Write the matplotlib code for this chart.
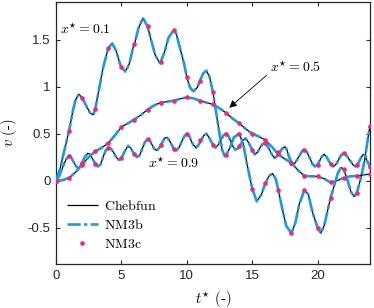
import matplotlib
matplotlib.use("Agg")
import matplotlib.pyplot as plt
import numpy as np

plt.rcParams['mathtext.fontset'] = 'cm'
plt.rcParams['axes.unicode_minus'] = False

# ---- data ----
# x* = 0.1 curve
tA = [0, 0.3, 0.6, 1.0, 1.3, 1.5, 1.75, 2.0, 2.3, 2.6, 2.85, 3.0, 3.3, 3.6, 3.9, 4.0,
      4.3, 4.6, 4.9, 5.0, 5.3, 5.6, 5.9, 6.0, 6.3, 6.65, 7.0, 7.3, 7.6, 7.95, 8.0, 8.3,
      8.6, 9.0, 9.2, 9.5, 9.8, 10.0, 10.25, 10.5, 10.8, 11.0, 11.25, 11.5, 11.75, 12.0,
      12.25, 12.5, 12.7, 12.9, 13.0, 13.3, 13.6, 14.0, 14.3, 14.6, 15.0, 15.35, 15.7,
      16.0, 16.3, 16.55, 16.8, 17.0, 17.3, 17.6, 18.0, 18.3, 18.6, 19.0, 19.3, 19.6,
      20.0, 20.25, 20.5, 20.75, 21.0, 21.3, 21.55, 21.8, 22.0, 22.3, 22.55, 22.8, 23.0,
      23.3, 23.6, 23.85, 24.0]
vA = [0, 0.12, 0.30, 0.53, 0.75, 0.86, 0.92, 0.88, 0.80, 0.72, 0.70, 0.76, 0.98, 1.20,
      1.36, 1.41, 1.46, 1.38, 1.24, 1.21, 1.16, 1.24, 1.42, 1.45, 1.62, 1.73, 1.64, 1.48,
      1.33, 1.25, 1.26, 1.37, 1.52, 1.60, 1.56, 1.40, 1.24, 1.10, 0.99, 0.95, 0.99, 1.06,
      1.14, 1.17, 1.10, 0.94, 0.72, 0.50, 0.33, 0.26, 0.27, 0.35, 0.46, 0.50, 0.40, 0.18,
      -0.085, -0.22, -0.15, -0.03, 0.05, 0.075, 0.02, -0.10, -0.30, -0.48, -0.56, -0.45,
      -0.25, -0.10, -0.15, -0.33, -0.50, -0.56, -0.48, -0.33, -0.18, -0.04, 0.08, 0.14,
      0.12, 0.00, -0.12, -0.17, -0.13, 0.02, 0.22, 0.45, 0.58]

# x* = 0.5 curve
tB = [0, 0.5, 1.0, 1.5, 2.0, 2.5, 3.0, 3.5, 4.0, 4.5, 5.0, 5.5, 6.0, 6.5, 7.0, 7.5, 8.0,
      8.5, 9.0, 9.5, 10.0, 10.5, 11.0, 11.5, 12.0, 12.5, 13.0, 13.5, 14.0, 14.5, 15.0,
      15.5, 16.0, 16.5, 17.0, 17.5, 18.0, 18.5, 19.0, 19.5, 20.0, 20.5, 21.0, 21.5, 22.0,
      22.5, 23.0, 23.5, 24.0]
vB = [0, 0.005, 0.03, 0.09, 0.17, 0.25, 0.31, 0.35, 0.40, 0.48, 0.57, 0.61, 0.65, 0.70,
      0.755, 0.80, 0.83, 0.84, 0.85, 0.87, 0.885, 0.875, 0.85, 0.83, 0.81, 0.77, 0.72,
      0.66, 0.61, 0.55, 0.50, 0.47, 0.43, 0.36, 0.28, 0.23, 0.19, 0.11, 0.05, 0.045, 0.045,
      0.02, -0.02, 0.00, 0.03, 0.045, 0.05, 0.06, 0.07]

# x* = 0.9 curve
tC = [0, 0.25, 0.5, 0.75, 0.97, 1.15, 1.3, 1.5, 1.66, 1.85, 2.0, 2.2, 2.42, 2.6, 2.8, 3.0,
      3.2, 3.4, 3.6, 3.8, 4.0, 4.2, 4.4, 4.6, 4.8, 5.0, 5.25, 5.5, 5.7, 5.9, 6.2, 6.4, 6.6,
      6.8, 7.0, 7.2, 7.35, 7.5, 7.7, 7.9, 8.1, 8.3, 8.5, 8.7, 8.85, 9.0, 9.2, 9.4, 9.6, 9.8,
      10.0, 10.2, 10.35, 10.5, 10.7, 10.9, 11.1, 11.3, 11.5, 11.7, 11.85, 12.0, 12.2, 12.4,
      12.6, 12.8, 13.0, 13.2, 13.35, 13.5, 13.7, 13.9, 14.1, 14.3, 14.5, 14.7, 14.85, 15.0,
      15.2, 15.4, 15.6, 15.8, 16.0, 16.2, 16.35, 16.5, 16.7, 16.9, 17.1, 17.3, 17.5, 17.65,
      17.8, 17.95, 18.1, 18.3, 18.55, 18.8, 19.0, 19.2, 19.4, 19.6, 19.8, 20.0, 20.15,
      20.3, 20.5, 20.7, 20.85, 21.0, 21.2, 21.4, 21.6, 21.8, 22.0, 22.2, 22.45, 22.7, 22.9,
      23.05, 23.2, 23.35, 23.5, 23.65, 23.75, 23.9, 24.0]
vC = [0, 0.05, 0.14, 0.22, 0.26, 0.25, 0.21, 0.16, 0.135, 0.15, 0.19, 0.25, 0.29, 0.28,
      0.23, 0.18, 0.15, 0.17, 0.25, 0.32, 0.35, 0.34, 0.30, 0.25, 0.22, 0.24, 0.31, 0.37,
      0.35, 0.30, 0.25, 0.27, 0.34, 0.41, 0.44, 0.42, 0.38, 0.34, 0.32, 0.35, 0.40, 0.45,
      0.46, 0.42, 0.38, 0.34, 0.32, 0.35, 0.41, 0.47, 0.50, 0.47, 0.42, 0.38, 0.35, 0.38,
      0.43, 0.48, 0.50, 0.46, 0.42, 0.38, 0.35, 0.38, 0.43, 0.48, 0.50, 0.47, 0.42, 0.37,
      0.33, 0.34, 0.38, 0.43, 0.45, 0.41, 0.37, 0.33, 0.28, 0.30, 0.35, 0.39, 0.40, 0.36,
      0.32, 0.28, 0.24, 0.26, 0.30, 0.34, 0.36, 0.33, 0.26, 0.21, 0.17, 0.19, 0.25, 0.31,
      0.33, 0.30, 0.24, 0.18, 0.15, 0.17, 0.21, 0.25, 0.28, 0.25, 0.21, 0.18, 0.15, 0.17,
      0.22, 0.27, 0.29, 0.27, 0.22, 0.17, 0.15, 0.17, 0.21, 0.25, 0.28, 0.26, 0.22, 0.18,
      0.15]

# NM3c samples (at integer t*)
t_pts = list(range(0, 25))
pA = [0, 0.53, 0.88, 0.76, 1.41, 1.21, 1.45, 1.64, 1.26, 1.60, 1.10, 1.06, 0.94, 0.27,
      0.50, -0.085, -0.03, -0.10, -0.56, -0.10, -0.50, -0.18, 0.12, -0.13, 0.58]
pB = [0, 0.03, 0.17, 0.31, 0.40, 0.57, 0.65, 0.755, 0.83, 0.85, 0.885, 0.85, 0.81, 0.72,
      0.61, 0.50, 0.43, 0.28, 0.19, 0.05, 0.045, -0.02, 0.03, 0.05, 0.07]
pC = [0, 0.26, 0.19, 0.18, 0.35, 0.24, 0.28, 0.44, 0.38, 0.34, 0.50, 0.43, 0.38, 0.50,
      0.37, 0.33, 0.40, 0.30, 0.19, 0.33, 0.17, 0.18, 0.29, 0.17, 0.15]

xticks = [0, 5, 10, 15, 20]
xticklabels = ['0', '5', '10', '15', '20']
yticks = [-0.5, 0, 0.5, 1, 1.5]
yticklabels = ['-0.5', '0', '0.5', '1', '1.5']
labels = ['0.1', '0.5', '0.9']

# ---- figure ----
fig = plt.figure(figsize=(3.74, 3.08), dpi=100)
ax = fig.add_axes([0.1497, 0.142, 0.8393, 0.8515])

blue = '#1a9be6'
pink = '#ff1f78'
curves = [(tA, vA), (tB, vB), (tC, vC)]
for i, (t, v) in enumerate(curves):
    ax.plot(t, v, color='black', lw=0.9, solid_capstyle='butt',
            label=r'$\mathrm{Chebfun}$' if i == 0 else None, zorder=2)
for i, (t, v) in enumerate(curves):
    ax.plot(t, v, color=blue, lw=1.9, linestyle=(0, (5, 1.3, 1.2, 1.3)),
            label=r'$\mathrm{NM3b}$' if i == 0 else None, zorder=3)
for i, p in enumerate([pA, pB, pC]):
    ax.plot(t_pts, p, linestyle='none', marker='o', ms=3.3, mec='none', mfc=pink,
            label=r'$\mathrm{NM3c}$' if i == 0 else None, zorder=4)

ax.set_xlim(0, 24)
ax.set_ylim(-0.89, 1.9)
ax.set_xticks(xticks)
ax.set_xticklabels(xticklabels)
ax.set_yticks(yticks)
ax.set_yticklabels(yticklabels)
for lab in ax.get_xticklabels() + ax.get_yticklabels():
    lab.set_fontfamily('Liberation Sans')
    lab.set_fontsize(9.5)
ax.tick_params(direction='in', top=True, right=True, length=3, width=0.8,
               color='#262626', labelcolor='#262626', pad=4)
for s in ax.spines.values():
    s.set_linewidth(0.9)
    s.set_color('#262626')

ax.set_xlabel(r'$t^{\star}$ (-)', fontfamily='cmr10', fontsize=10.5)
ax.set_ylabel(r'$v$ (-)', fontfamily='cmr10', fontsize=10.5)
ax.xaxis.set_label_coords(0.5, -0.095)
ax.yaxis.set_label_coords(-0.118, 0.5)

ax.text(0.3, 1.61, r'$x^{\star} = $' + r'$' + labels[0] + r'$', fontsize=10, va='center', ha='left')
ax.text(16.4, 1.21, r'$x^{\star} = $' + r'$' + labels[1] + r'$', fontsize=10, va='center', ha='left')
ax.text(7.05, 0.18, r'$x^{\star} = $' + r'$' + labels[2] + r'$', fontsize=10, va='center', ha='left')
ax.annotate('', xy=(13.25, 0.775), xytext=(16.1, 1.12),
            arrowprops=dict(arrowstyle='-|>', color='black', lw=0.6,
                            mutation_scale=11, shrinkA=0, shrinkB=0))

leg = ax.legend(loc='upper left', bbox_to_anchor=(0.035, 0.248), frameon=False,
                fontsize=10, handlelength=2.2, handletextpad=0.45, labelspacing=0.35,
                borderpad=0, borderaxespad=0, numpoints=1)

fig.savefig('out.png', dpi=100)
